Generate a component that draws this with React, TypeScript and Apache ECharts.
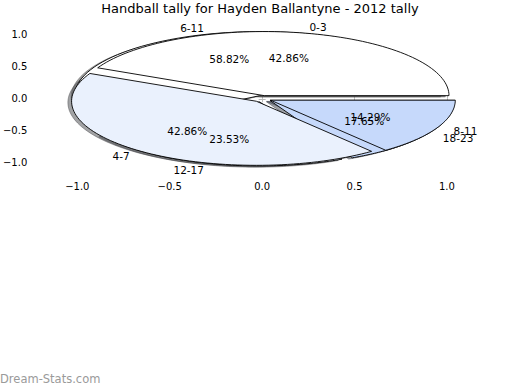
import React, { useEffect, useRef } from "react";
import * as echarts from "echarts";

const titleText = "Handball tally for Hayden Ballantyne - 2012 tally";
const pie1Labels = ["0-3", "4-7", "8-11"];
const pie1Values = [3, 3, 1];
const pie2Labels = ["6-11", "12-17", "18-23"];
const pie2Values = [10, 4, 3];
const wedgeColors = ["#ffffff", "#eaf1fd", "#c6d9fb"];
const xTicks = [-1, -0.5, 0, 0.5, 1];
const yTicks = [-1, -0.5, 0, 0.5, 1];
const explode = 0.05;
const FONT = "DejaVu Sans";

type Wedge = { t1: number; t2: number; mid: number; cx: number; cy: number; label: string; pct: string; color: string };

function makeWedges(values: number[], labels: string[]): Wedge[] {
  const sum = values.reduce((a, b) => a + b, 0);
  let acc = 0;
  return values.map((v, i) => {
    const t1 = (acc / sum) * 2 * Math.PI;
    acc += v;
    const t2 = (acc / sum) * 2 * Math.PI;
    const mid = (t1 + t2) / 2;
    return {
      t1, t2, mid,
      cx: explode * Math.cos(mid),
      cy: explode * Math.sin(mid),
      label: labels[i],
      pct: ((v / sum) * 100).toFixed(2) + "%",
      color: wedgeColors[i],
    };
  });
}

const pie1 = makeWedges(pie1Values, pie1Labels);
const pie2 = makeWedges(pie2Values, pie2Labels);

function polyPoints(api: any, w: Wedge, dx: number, dy: number) {
  const pts: number[][] = [api.coord([w.cx + dx, w.cy + dy])];
  const n = 80;
  for (let k = 0; k <= n; k++) {
    const t = w.t1 + ((w.t2 - w.t1) * k) / n;
    pts.push(api.coord([w.cx + dx + Math.cos(t), w.cy + dy + Math.sin(t)]));
  }
  return pts;
}

function fmt(v: number) {
  return v.toFixed(1).replace("-", "\u2212");
}

export default function App() {
  const ref = useRef<HTMLDivElement>(null);
  useEffect(() => {
    if (!ref.current) return;
    const chart = echarts.init(ref.current, null, { renderer: "svg" });
    const allWedges = [...pie2, ...pie1];
    const tickStyle = { show: true, inside: false, length: 3.5, lineStyle: { color: "#b8b8b8", width: 1 } };
    const axisBase = {
      type: "value" as const,
      axisLine: { show: false },
      splitLine: { show: false },
    };
    const option: any = {
      animation: false,
      grid: { left: 29.5, right: 30, top: 22.5, bottom: 215 },
      xAxis: [
        {
          ...axisBase, position: "bottom", min: -1.233, max: 1.233,
          axisTick: { ...tickStyle, customValues: xTicks },
          axisLabel: { customValues: xTicks, formatter: fmt, margin: 6, fontSize: 10, fontFamily: FONT, color: "#000" },
        },
        {
          ...axisBase, position: "top", min: -1.233, max: 1.233,
          axisTick: { ...tickStyle, customValues: xTicks },
          axisLabel: { show: false },
        },
      ],
      yAxis: [
        {
          ...axisBase, position: "left", min: -1.19, max: 1.19,
          axisTick: { ...tickStyle, customValues: yTicks },
          axisLabel: { customValues: yTicks, formatter: fmt, margin: 7, fontSize: 10, fontFamily: FONT, color: "#000" },
        },
        {
          ...axisBase, position: "right", min: -1.19, max: 1.19,
          axisTick: { ...tickStyle, customValues: yTicks },
          axisLabel: { show: false },
        },
      ],
      graphic: [
        {
          type: "text", left: "center", top: 2,
          style: { text: titleText, fontSize: 13, fontFamily: FONT, fill: "#000" },
        },
        {
          type: "text", left: 0, top: 373,
          style: { text: "Dream-Stats.com", fontSize: 11.5, fontFamily: FONT, fill: "#9a9a9a" },
        },
      ],
      series: [
        {
          type: "custom", z: 1, clip: false,
          data: allWedges.map((_, i) => [0, 0, i]),
          renderItem: (params: any, api: any) => {
            const w = allWedges[params.dataIndex];
            const c = echarts.color.parse(w.color);
            const col = `rgba(${Math.round(c[0] * 0.3)},${Math.round(c[1] * 0.3)},${Math.round(c[2] * 0.3)},0.5)`;
            return {
              type: "polygon",
              shape: { points: polyPoints(api, w, -0.02, -0.02) },
              style: { fill: col, stroke: col, lineWidth: 0.9 },
            };
          },
        },
        {
          type: "custom", z: 2, clip: false,
          data: pie2.map((_, i) => [0, 0, i]),
          renderItem: (params: any, api: any) => {
            const w = pie2[params.dataIndex];
            return {
              type: "polygon",
              shape: { points: polyPoints(api, w, 0, 0) },
              style: { fill: w.color, stroke: "#000", lineWidth: 0.9 },
            };
          },
        },
        {
          type: "custom", z: 3, clip: false,
          data: pie1.map((_, i) => [0, 0, i]),
          renderItem: (params: any, api: any) => {
            const w = pie1[params.dataIndex];
            return {
              type: "polygon",
              shape: { points: polyPoints(api, w, 0, 0) },
              style: { fill: w.color, stroke: "#000", lineWidth: 0.9 },
            };
          },
        },
        {
          type: "custom", z: 4, clip: false,
          data: allWedges.map((_, i) => [0, 0, i]),
          renderItem: (params: any, api: any) => {
            const w = allWedges[params.dataIndex];
            const lx = w.cx + 1.1 * Math.cos(w.mid);
            const ly = w.cy + 1.1 * Math.sin(w.mid);
            const px = w.cx + 0.6 * Math.cos(w.mid);
            const py = w.cy + 0.6 * Math.sin(w.mid);
            const lp = api.coord([lx, ly]);
            const pp = api.coord([px, py]);
            return {
              type: "group",
              children: [
                {
                  type: "text",
                  style: {
                    text: w.label, x: lp[0], y: lp[1], fill: "#000", fontSize: 10.5, fontFamily: FONT,
                    align: lx > 0 ? "left" : "right", verticalAlign: "middle",
                  },
                },
                {
                  type: "text",
                  style: {
                    text: w.pct, x: pp[0], y: pp[1], fill: "#000", fontSize: 10.5, fontFamily: FONT,
                    align: "center", verticalAlign: "middle",
                  },
                },
              ],
            };
          },
        },
      ],
    };
    chart.setOption(option);
    return () => chart.dispose();
  }, []);
  return (
    <div
      ref={ref}
      style={{ position: "fixed", left: 0, top: 0, width: 520, height: 390, background: "#fff" }}
    />
  );
}
